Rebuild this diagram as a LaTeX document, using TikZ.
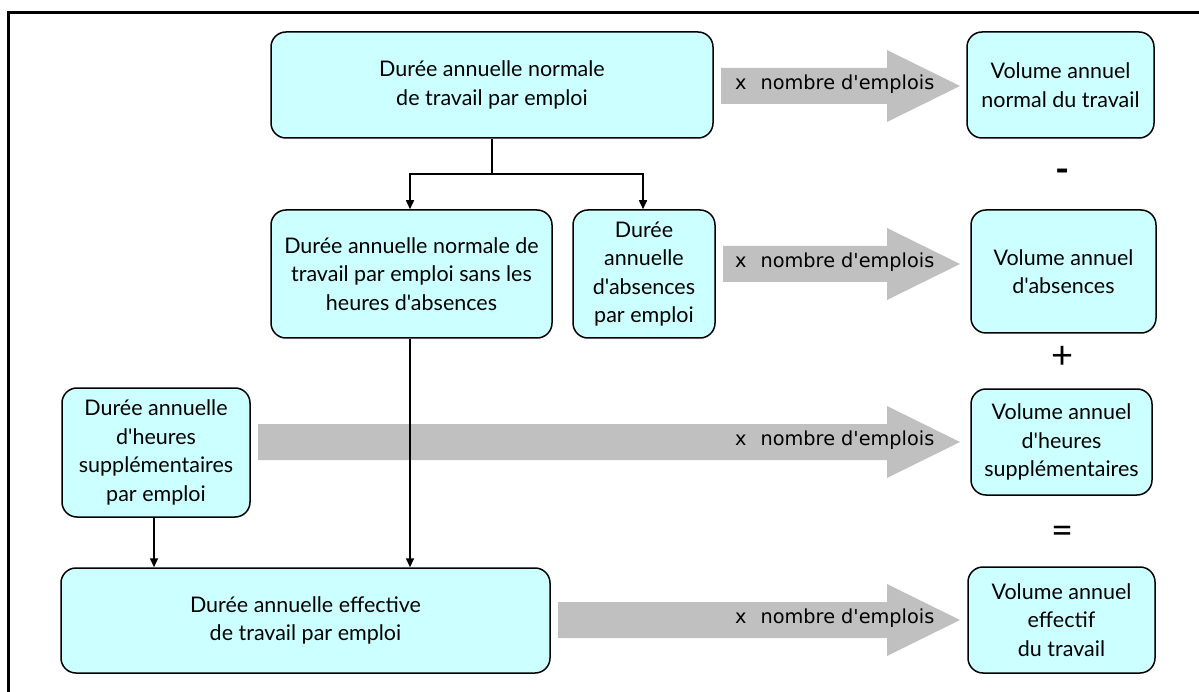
\documentclass[tikz,border=0pt]{standalone}
\usepackage{fontspec}
\newfontfamily\boxfont{Lato}
\newfontfamily\arrfont{DejaVu Sans}
\usetikzlibrary{arrows.meta}
\definecolor{boxcyan}{HTML}{CCFFFF}
\definecolor{arrowgray}{HTML}{C0C0C0}
\newcommand{\grayarrow}[3]{%
  \fill[arrowgray] (#1,#2-18) -- (887,#2-18) -- (887,#2-36) -- (960,#2) -- (887,#2+36) -- (887,#2+18) -- (#1,#2+18) -- cycle;
  \node[arrtext] (#3) at (735,#2-2) {x\hspace{14pt}nombre d'emplois};}
\begin{document}
\begin{tikzpicture}[x=1pt,y=-1pt,
  box/.style={draw, line width=1.5pt, rounded corners=15pt, fill=boxcyan, align=center, inner sep=0pt,
    font=\boxfont\fontsize{21.5}{28.5}\selectfont},
  arrtext/.style={anchor=west, inner sep=0pt, font=\arrfont\fontsize{19.3}{22}\selectfont},
  op/.style={inner sep=0pt, font=\boxfont\fontsize{38}{40}\selectfont},
  conn/.style={line width=1.5pt, -{Triangle[length=9pt,width=8pt]}},
  plain/.style={line width=1.5pt}]
\useasboundingbox (0,0) rectangle (1199,692);
\draw[line width=3pt] (8.5,12.5) rectangle (1215,710);
% gray arrows
\grayarrow{721}{86}{t1}
\grayarrow{723}{264}{t2}
\grayarrow{258}{442}{t3}
\grayarrow{558}{620}{t4}
% boxes
\node[box, minimum width=442pt, minimum height=106pt] (A) at (492,85) {Durée annuelle normale\\de travail par emploi};
\node[box, minimum width=187pt, minimum height=106pt] (R1) at (1060.5,85) {Volume annuel\\normal du travail};
\node[box, minimum width=281pt, minimum height=128pt] (B) at (411.5,274) {Durée annuelle normale de\\travail par emploi sans les\\heures d'absences};
\node[box, minimum width=142pt, minimum height=128pt] (C) at (644,274) {Durée\\annuelle\\d'absences\\par emploi};
\node[box, minimum width=185pt, minimum height=123pt] (R2) at (1063.5,271.5) {Volume annuel\\d'absences};
\node[box, minimum width=188pt, minimum height=129pt] (D) at (156,452.5) {Durée annuelle\\d'heures\\supplémentaires\\par emploi};
\node[box, minimum width=181pt, minimum height=106pt] (R3) at (1061.5,442) {Volume annuel\\d'heures\\supplémentaires};
\node[box, minimum width=489pt, minimum height=105pt] (E) at (305.5,620.5) {Durée annuelle effective\\de travail par emploi};
\node[box, minimum width=187pt, minimum height=106pt] (R4) at (1061.5,620) {Volume annuel\\effectif\\du travail};
% operators
\node[op, font=\boxfont\bfseries\fontsize{38}{40}\selectfont] (minus) at (1063,176) {-};
\node[op] (plus) at (1063,357) {+};
\node[op] (equal) at (1063,535) {=};
% connectors
\coordinate (j) at (492,174);
\draw[plain] (A.south) -- (j);
\draw[conn] (j) -| (B.north -| 410,0);
\draw[conn] (j) -| (C.north -| 643,0);
\draw[conn] (B.south -| 410,0) -- (E.north -| 410,0);
\draw[conn] (D.south -| 154,0) -- (E.north -| 154,0);
\end{tikzpicture}
\end{document}
